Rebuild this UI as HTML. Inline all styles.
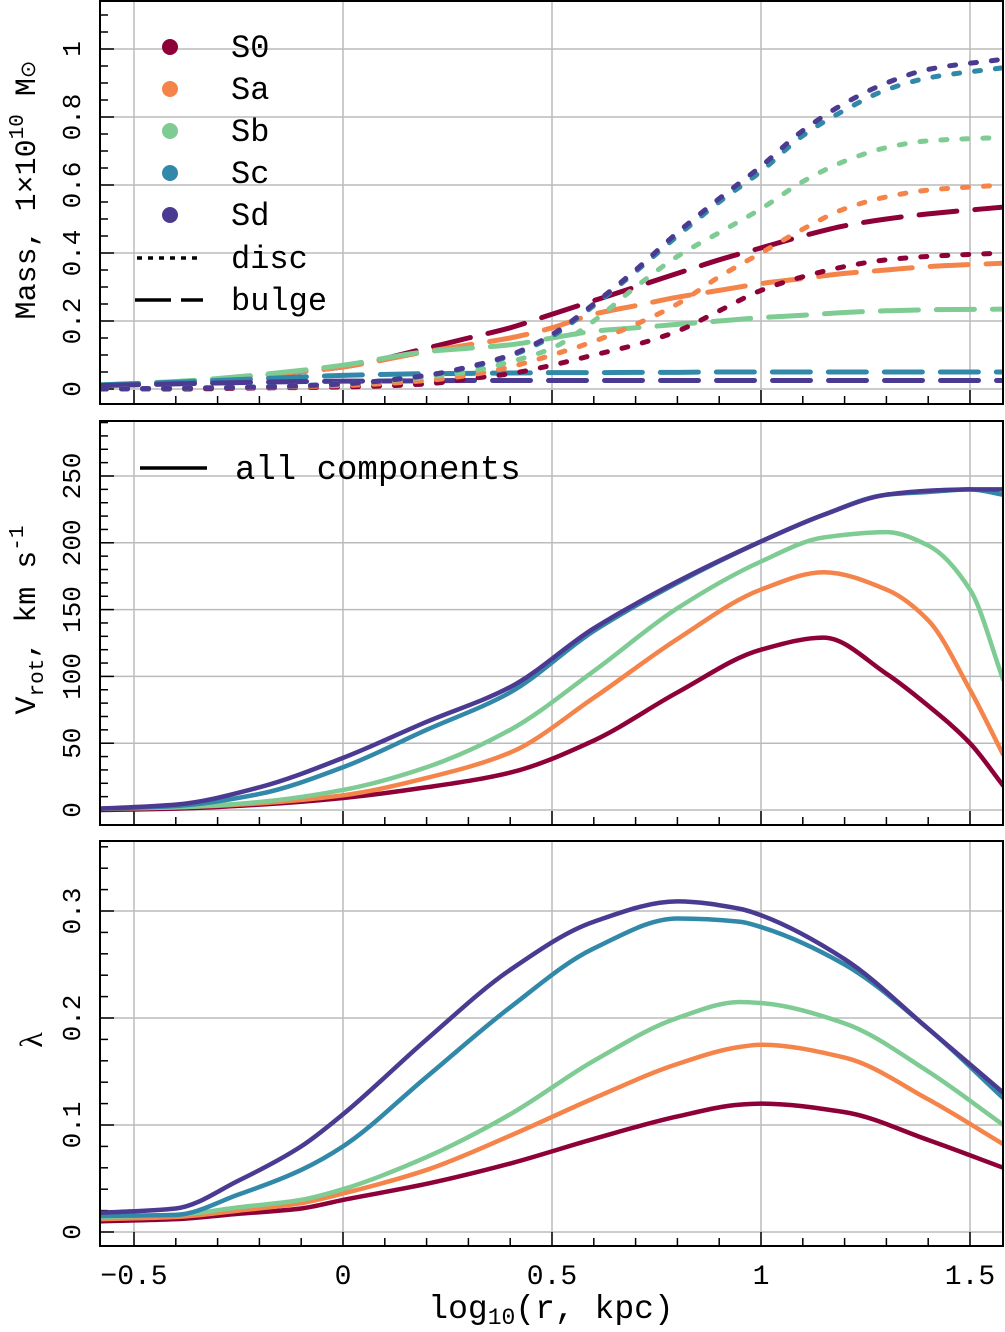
<!DOCTYPE html>
<html><head><meta charset="utf-8"><style>
body{margin:0;background:#fff}
svg text{font-family:"Liberation Mono",monospace;fill:#000}
</style></head><body>
<svg id="c" width="1005" height="1327" xmlns="http://www.w3.org/2000/svg"></svg>
<script>
const xs=[-0.58,-0.4,-0.2,0,0.2,0.3,0.4,0.5,0.6,0.7,0.8,0.9,1.0,1.1,1.2,1.3,1.4,1.58];
const names=["S0","Sa","Sb","Sc","Sd"];
const colors=["#8e0038","#f4844a","#7ecb93","#3288a8","#4b3a91"];
const discMass=[
[0,0,0.003,0.006,0.015,0.03,0.045,0.07,0.1,0.13,0.17,0.23,0.29,0.33,0.36,0.38,0.39,0.40],
[0,0.002,0.005,0.01,0.025,0.04,0.065,0.1,0.14,0.19,0.25,0.33,0.40,0.47,0.53,0.565,0.585,0.60],
[0,0.002,0.006,0.015,0.035,0.05,0.08,0.12,0.2,0.3,0.39,0.46,0.53,0.61,0.67,0.71,0.73,0.74],
[0,0.002,0.006,0.015,0.04,0.063,0.097,0.155,0.245,0.345,0.45,0.55,0.64,0.745,0.82,0.88,0.915,0.945],
[0,0.002,0.006,0.015,0.04,0.065,0.1,0.16,0.25,0.35,0.46,0.56,0.655,0.76,0.84,0.9,0.94,0.97]];
const bulgeMass=[
[0.01,0.02,0.04,0.065,0.12,0.15,0.18,0.22,0.26,0.30,0.34,0.38,0.415,0.45,0.48,0.50,0.515,0.535],
[0.01,0.02,0.04,0.065,0.11,0.13,0.15,0.18,0.22,0.245,0.27,0.29,0.31,0.325,0.34,0.35,0.36,0.37],
[0.012,0.022,0.042,0.07,0.11,0.12,0.13,0.15,0.17,0.18,0.19,0.2,0.21,0.217,0.225,0.23,0.233,0.235],
[0.012,0.02,0.03,0.04,0.045,0.046,0.047,0.048,0.048,0.049,0.049,0.05,0.05,0.05,0.05,0.05,0.05,0.05],
[0.01,0.015,0.02,0.023,0.024,0.025,0.025,0.025,0.025,0.025,0.025,0.025,0.025,0.025,0.025,0.025,0.025,0.025]];
const vx=[-0.58,-0.4,-0.2,0,0.2,0.4,0.6,0.8,1.0,1.15,1.3,1.4,1.5,1.58];
const vrot=[
[0,1,4,9,17,28,52,88,120,129,102,78,50,18],
[1,2,5,11,24,43,84,128,165,178,165,142,90,41],
[1,2,6,15,32,60,104,151,186,204,208,198,165,97],
[1,3,12,32,60,88,134,170,201,221,236,238,240,236],
[1,4,17,39,66,92,136,171,201,221,236,239,240,240]];
const lx=[-0.58,-0.4,-0.25,-0.1,0,0.2,0.4,0.6,0.8,0.95,1.0,1.2,1.4,1.58];
const lambda=[
[0.01,0.012,0.017,0.022,0.03,0.045,0.064,0.087,0.108,0.119,0.12,0.112,0.086,0.06],
[0.012,0.014,0.02,0.027,0.036,0.058,0.09,0.125,0.157,0.173,0.175,0.163,0.124,0.082],
[0.014,0.016,0.023,0.03,0.04,0.07,0.11,0.16,0.2,0.215,0.214,0.195,0.15,0.1],
[0.015,0.016,0.035,0.058,0.08,0.145,0.21,0.265,0.293,0.29,0.285,0.25,0.19,0.125],
[0.018,0.022,0.048,0.08,0.11,0.18,0.245,0.29,0.309,0.302,0.296,0.255,0.19,0.13]];

const svg=document.getElementById('c');
const NS="http://www.w3.org/2000/svg";
function mk(t,a){const e=document.createElementNS(NS,t);for(const k in a)e.setAttribute(k,a[k]);svg.appendChild(e);return e;}
const X0=100,X1=1003;
const sx=v=>343+(v-0)*418;
const panels=[
 {top:1,bot:404,y0:389,k:340,ticks:[0,0.2,0.4,0.6,0.8,1],minor:0.05,max:1.15,lab:["0","0.2","0.4","0.6","0.8","1"]},
 {top:421,bot:825,y0:810,k:1.336,ticks:[0,50,100,150,200,250],minor:10,max:290,lab:["0","50","100","150","200","250"]},
 {top:841,bot:1246,y0:1232,k:1070,ticks:[0,0.1,0.2,0.3],minor:0.02,max:0.37,lab:["0","0.1","0.2","0.3"]}];
function path(px,py,sy){
 const X=px.map(sx),Y=py.map(sy),n=X.length,d=[],m=[];
 for(let i=0;i<n-1;i++)d.push((Y[i+1]-Y[i])/(X[i+1]-X[i]));
 m[0]=d[0];m[n-1]=d[n-2];
 for(let i=1;i<n-1;i++){if(d[i-1]*d[i]<=0)m[i]=0;else{const h0=X[i]-X[i-1],h1=X[i+1]-X[i];const w1=2*h1+h0,w2=h1+2*h0;m[i]=(w1+w2)/(w1/d[i-1]+w2/d[i]);}}
 let s="M"+X[0]+","+Y[0];
 for(let i=0;i<n-1;i++){const h=(X[i+1]-X[i])/3;s+=` C${X[i]+h},${Y[i]+m[i]*h} ${X[i+1]-h},${Y[i+1]-m[i+1]*h} ${X[i+1]},${Y[i+1]}`;}
 return s;}
panels.forEach((p,pi)=>{
 const sy=v=>p.y0-v*p.k;
 for(let v=-0.5;v<=1.5;v+=0.5){const g=mk('line',{x1:sx(v),x2:sx(v),y1:p.top,y2:p.bot,stroke:'#bbb','stroke-width':1.5});}
 p.ticks.forEach((t,i)=>{const g=mk('line',{x1:X0,x2:X1,y1:sy(t),y2:sy(t),stroke:'#bbb','stroke-width':1.5});
  const tx=mk('text',{x:0,y:0,'font-size':26,'text-anchor':'middle',transform:`translate(80,${sy(t)}) rotate(-90)`});tx.textContent=p.lab[i];});
 for(let v=0;v<=p.max;v+=p.minor){const y=sy(v);if(y<p.top)break;const maj=p.ticks.some(t=>Math.abs(t-v)<1e-6);mk('line',{x1:X0,x2:X0+(maj?14:8),y1:y,y2:y,stroke:'#000','stroke-width':1.5});}
 for(let v=-0.5;v<=1.55;v+=0.1){const maj=Math.abs(v*2-Math.round(v*2))<1e-6;mk('line',{x1:sx(v),x2:sx(v),y1:p.bot,y2:p.bot-(maj?14:8),stroke:'#000','stroke-width':1.5});}
 const clip=mk('clipPath',{id:'cp'+pi});const r=document.createElementNS(NS,'rect');r.setAttribute('x',X0);r.setAttribute('y',p.top);r.setAttribute('width',X1-X0);r.setAttribute('height',p.bot-p.top);clip.appendChild(r);
 p.sy=sy;
});
function series(px,arr,pi,dash,nm){const p=panels[pi];arr.forEach((s,i)=>{const e=mk('path',{d:path(px,s,p.sy),fill:'none',stroke:colors[i],'stroke-width':dash?5:4.5,'stroke-linecap':dash?'round':'butt','stroke-dasharray':dash||'none','clip-path':`url(#cp${pi})`});});}
series(xs,bulgeMass,0,"38,18","bulge-mass");
series(xs,discMass,0,"6,15","disc-mass");
series(vx,vrot,1,null,"vrot");
series(lx,lambda,2,null,"lambda");
panels.forEach(p=>{const f=mk('rect',{x:X0,y:p.top,width:X1-X0,height:p.bot-p.top,fill:'none',stroke:'#000','stroke-width':2});});
[-0.5,0,0.5,1,1.5].forEach(v=>{const t=mk('text',{x:sx(v),y:1284,'font-size':28,'text-anchor':'middle'});t.textContent=v==-0.5?"−0.5":String(v);});
names.forEach((n,i)=>{const c=mk('circle',{cx:170,cy:47+i*42,r:8,fill:colors[i]});
 const t=mk('text',{x:231,y:57+i*42,'font-size':32});t.textContent=n;});
let l=mk('line',{x1:137,x2:198,y1:258,y2:258,stroke:'#000','stroke-width':3.5,'stroke-dasharray':'5,6'});
let t=mk('text',{x:231,y:268,'font-size':32});t.textContent="disc";
l=mk('line',{x1:135,x2:203,y1:300,y2:300,stroke:'#000','stroke-width':3.5,'stroke-dasharray':'36,10'});
t=mk('text',{x:231,y:310,'font-size':32});t.textContent="bulge";
l=mk('line',{x1:140,x2:207,y1:468,y2:468,stroke:'#000','stroke-width':3.5});
t=mk('text',{x:235,y:479,'font-size':34});t.textContent="all components";
</script>
<svg width="1005" height="1327" style="position:absolute;left:0;top:0" xmlns="http://www.w3.org/2000/svg">
<text transform="translate(35,190) rotate(-90)" text-anchor="middle" font-size="30" style="font-family:'Liberation Mono',monospace">Mass, 1×10<tspan dy="-12" font-size="21">10</tspan><tspan dy="12"> M</tspan><tspan font-size="21">⊙</tspan></text>
<text transform="translate(35,620) rotate(-90)" text-anchor="middle" font-size="30" style="font-family:'Liberation Mono',monospace">V<tspan dy="8" font-size="21">rot</tspan><tspan dy="-8">, km s</tspan><tspan dy="-12" font-size="21">-1</tspan></text>
<text transform="translate(42,1040) rotate(-90)" text-anchor="middle" font-size="32" style="font-family:'Liberation Serif',serif">λ</text>
<text x="551" y="1318" text-anchor="middle" font-size="33" style="font-family:'Liberation Mono',monospace">log<tspan dy="6" font-size="23">10</tspan><tspan dy="-6">(r, kpc)</tspan></text>
</svg>
</body></html>
